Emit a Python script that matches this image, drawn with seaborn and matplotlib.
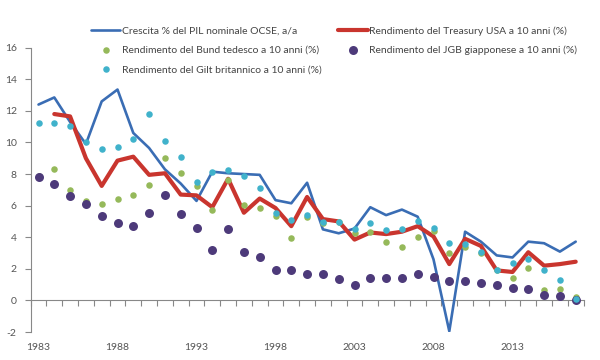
import numpy as np
import pandas as pd
import seaborn as sns
import matplotlib.pyplot as plt

# Data (values in %)
years = list(range(1983, 2018))

pil_ocse = [12.4, 12.85, 11.3, 9.9, 12.6, 13.35, 10.6, 9.65, 8.3, 7.4,
            6.3, 8.15, 8.05, 8.0, 7.95, 6.35, 6.15, 7.45, 4.5, 4.25,
            4.55, 5.9, 5.4, 5.75, 5.3, 2.6, -1.95, 4.35, 3.72, 2.85,
            2.72, 3.72, 3.62, 3.09, 3.72]

treasury_usa = [np.nan, 11.8, 11.65, 9.0, 7.25, 8.85, 9.1, 7.95, 8.05, 6.7,
                6.65, 5.9, 7.7, 5.55, 6.45, 5.85, 4.7, 6.55, 5.15, 5.0,
                3.85, 4.3, 4.2, 4.35, 4.7, 4.05, 2.3, 3.9, 3.45, 1.9,
                1.8, 3.05, 2.2, 2.3, 2.45]

bund_tedesco = [7.9, 8.35, 7.0, 6.3, 6.1, 6.45, 6.65, 7.3, 9.0, 8.05,
                7.25, 5.75, 7.65, 6.05, 5.85, 5.35, 3.95, 5.3, 4.9, 4.95,
                4.25, 4.3, 3.7, 3.4, 4.0, 4.4, 3.0, 3.4, 3.0, 1.9,
                1.4, 2.05, 0.65, 0.7, 0.2]

gilt_britannico = [11.25, 11.25, 11.05, 10.0, 9.6, 9.7, 10.2, 11.8, 10.1, 9.1,
                   7.5, 8.15, 8.25, 7.85, 7.1, 5.55, 5.1, 5.4, 4.95, 4.95,
                   4.5, 4.9, 4.45, 4.55, 5.0, 4.6, 3.65, 3.6, 3.05, 1.9,
                   2.4, 2.6, 1.9, 1.3, 0.1]

jgb_giapponese = [7.8, 7.35, 6.6, 6.1, 5.35, 4.9, 4.7, 5.55, 6.7, 5.45,
                  4.6, 3.2, 4.5, 3.05, 2.75, 1.9, 1.9, 1.65, 1.65, 1.35,
                  0.95, 1.4, 1.45, 1.45, 1.7, 1.5, 1.2, 1.25, 1.1, 1.0,
                  0.8, 0.75, 0.37, 0.28, 0.05]

labels = {
    "pil": "Crescita % del PIL nominale OCSE, a/a",
    "ust": "Rendimento del Treasury USA a 10 anni (%)",
    "bund": "Rendimento del Bund tedesco a 10 anni (%)",
    "jgb": "Rendimento del JGB giapponese a 10 anni (%)",
    "gilt": "Rendimento del Gilt britannico a 10 anni (%)",
}

df = pd.DataFrame({"anno": years, "pil": pil_ocse, "ust": treasury_usa,
                   "bund": bund_tedesco, "gilt": gilt_britannico,
                   "jgb": jgb_giapponese})

sns.set_style("white")
plt.rcParams['font.family'] = ['Lato', 'DejaVu Sans']
plt.rcParams['axes.unicode_minus'] = False
grey = "#555555"

fig = plt.figure(figsize=(6, 3.6), dpi=100)
ax = fig.add_axes([30.6 / 600, 28 / 360, 553 / 600, 284.3 / 360])

sns.lineplot(data=df, x="anno", y="pil", ax=ax, color="#3a6db4", lw=1.9,
             label=labels["pil"], zorder=2)
sns.lineplot(data=df, x="anno", y="ust", ax=ax, color="#c9352e", lw=3.0,
             label=labels["ust"], zorder=3)
sns.scatterplot(data=df, x="anno", y="bund", ax=ax, color="#95b95a", s=22,
                linewidth=0, label=labels["bund"], zorder=4)
sns.scatterplot(data=df, x="anno", y="jgb", ax=ax, color="#4d3a7a", s=42,
                linewidth=0, label=labels["jgb"], zorder=5)
sns.scatterplot(data=df, x="anno", y="gilt", ax=ax, color="#40b2cb", s=22,
                linewidth=0, label=labels["gilt"], zorder=6)

ax.set_xlim(1982.5, 2017.5)
ax.set_ylim(-2, 16)
ax.set_xlabel("")
ax.set_ylabel("")

# y axis
ax.set_yticks(range(-2, 17, 2))
ax.tick_params(axis="y", length=4, width=0.8, color="#888888",
               labelsize=7.5, labelcolor=grey, pad=6, left=True)
ax.spines["left"].set_color("#888888")
ax.spines["left"].set_linewidth(0.8)
for s in ["top", "right", "bottom"]:
    ax.spines[s].set_visible(False)

# x labels at the bottom, category axis crossing at zero
ax.set_xticks(range(1983, 2018, 5))
ax.tick_params(axis="x", length=0, labelsize=7.5, labelcolor=grey, pad=8)
zero = ax.secondary_xaxis(2 / 18)
zero.set_xticks(np.arange(1982.5, 2018, 1))
zero.set_xticklabels([])
zero.tick_params(axis="x", length=4, width=0.8, color="#888888")
zero.spines["bottom"].set_color("#888888")
zero.spines["bottom"].set_linewidth(0.8)

# legend on two columns above the plot
handles, labs = ax.get_legend_handles_labels()
order = [labs.index(labels[k]) for k in ["pil", "bund", "gilt", "ust", "jgb"]]
ax.get_legend().remove()
fig.legend([handles[i] for i in order], [labs[i] for i in order],
           ncol=2, frameon=False, loc="upper left",
           bbox_to_anchor=(86 / 600, 1 - 21 / 360), borderpad=0,
           fontsize=7.5, labelcolor="#444444", handlelength=2.8,
           handletextpad=0.15, labelspacing=0.95, columnspacing=1.6)

fig.savefig("out.png", dpi=100)
